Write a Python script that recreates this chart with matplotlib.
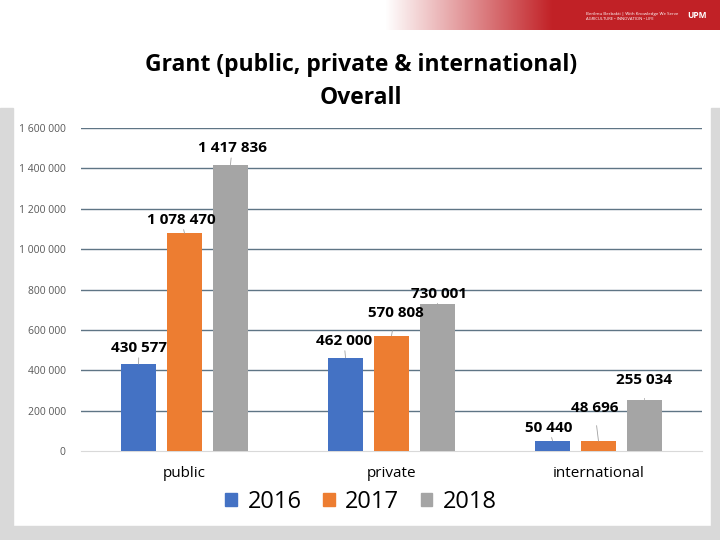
import numpy as np
import matplotlib
matplotlib.use('Agg')
import matplotlib.pyplot as plt
from matplotlib.patches import Rectangle
from matplotlib.ticker import FuncFormatter

categories = ['public', 'private', 'international']
years = ['2016', '2017', '2018']
grant_2016 = [430577, 462000, 50440]
grant_2017 = [1078470, 570808, 48696]
grant_2018 = [1417836, 730001, 255034]
yticks = [0, 200000, 400000, 600000, 800000, 1000000, 1200000, 1400000, 1600000]

colors = ['#4472C4', '#ED7D31', '#A5A5A5']
# label positions (category x offset, y) for each year's data label
label_pos = {
    0: [(-0.22, 510000), (-0.015, 1145000), (0.23, 1500000)],
    1: [(-0.23, 545000), (0.02, 685000), (0.23, 780000)],
    2: [(-0.24, 115000), (-0.02, 215000), (0.22, 350000)],
}

plt.rcParams['font.family'] = ['Open Sans', 'DejaVu Sans']


def fmt(v):
    return '{:,}'.format(int(v)).replace(',', ' ')


fig = plt.figure(figsize=(7.2, 5.4), dpi=100)
fig.patch.set_facecolor('white')

W, H = 720.0, 540.0


def fx(px):
    return px / W


def fy(py):
    return 1 - py / H


# slide border
fig.patches.append(Rectangle((0, 0), fx(13), fy(108), transform=fig.transFigure,
                             color='#d9d9d9', zorder=0))
fig.patches.append(Rectangle((fx(711), 0), fx(9), fy(108), transform=fig.transFigure,
                             color='#d9d9d9', zorder=0))
fig.patches.append(Rectangle((0, 0), 1, fy(526), transform=fig.transFigure,
                             color='#d9d9d9', zorder=0))

# header banner
bax = fig.add_axes([fx(385), fy(30), fx(335), 30 / H])
grad = np.linspace(0, 1, 256)
grad = np.clip(grad * 2.0, 0, 1)
img = np.ones((1, 256, 3))
red = np.array([0.76, 0.13, 0.15])
for i in range(256):
    img[0, i] = (1 - grad[i]) * np.array([1, 1, 1]) + grad[i] * red
bax.imshow(img, aspect='auto', extent=[0, 1, 0, 1])
bax.text(0.6, 0.55, 'Berilmu Berbakti | With Knowledge We Serve', color='white',
         fontsize=3.2, ha='left', va='center')
bax.text(0.6, 0.35, 'AGRICULTURE • INNOVATION • LIFE', color='white',
         fontsize=3.0, ha='left', va='center')
bax.text(0.93, 0.5, 'UPM', color='white', fontsize=6, fontweight='bold',
         ha='center', va='center')
bax.axis('off')

ax = fig.add_axes([fx(81), fy(451), fx(702 - 81), (451 - 128) / H])
ax.set_facecolor('white')

x = np.arange(len(categories))
width = 0.172
step = 0.222
series = [grant_2016, grant_2017, grant_2018]
for i, vals in enumerate(series):
    ax.bar(x + (i - 1) * step, vals, width, color=colors[i], label=years[i], zorder=3)

for c in range(len(categories)):
    for i, vals in enumerate(series):
        bx = c + (i - 1) * step
        lx, ly = label_pos[c][i]
        ax.annotate(fmt(vals[c]), xy=(bx, vals[c]), xytext=(c + lx, ly),
                    ha='center', va='center', fontsize=11, fontweight='bold',
                    color='black', zorder=5,
                    arrowprops=dict(arrowstyle='-', color='#a0a0a0', lw=0.6,
                                    shrinkA=6, shrinkB=0))

ax.set_xlim(-0.5, 2.5)
ax.set_ylim(0, 1600000)
ax.set_yticks(yticks)
ax.yaxis.set_major_formatter(FuncFormatter(lambda v, p: fmt(v)))
ax.set_xticks(x)
ax.set_xticklabels(categories, fontsize=11)
ax.tick_params(axis='x', length=0, pad=11, colors='black')
ax.tick_params(axis='y', length=0, pad=11, labelsize=7.5, labelcolor='#595959')
for sp in ['top', 'right', 'left']:
    ax.spines[sp].set_visible(False)
ax.spines['bottom'].set_color('#d9d9d9')
ax.yaxis.grid(True, color='#5f7585', lw=1.0, zorder=0)
ax.set_axisbelow(True)
# hide gridline at zero (bottom spine used instead)
ax.get_ygridlines()[0].set_visible(False)

fig.text(fx(361), fy(65), 'Grant (public, private & international)', ha='center',
         va='center', fontsize=16.5, fontweight='bold')
fig.text(fx(361), fy(98), 'Overall', ha='center', va='center', fontsize=16.5,
         fontweight='bold')

handles = [Rectangle((0, 0), 1, 1, color=c) for c in colors]
fig.legend(handles, years, loc='center', bbox_to_anchor=(fx(361), fy(502)), ncol=3,
           frameon=False, fontsize=17, handlelength=0.5, handleheight=0.5,
           handletextpad=0.45, columnspacing=0.9)

fig.savefig('out.png', dpi=100, facecolor='white')
